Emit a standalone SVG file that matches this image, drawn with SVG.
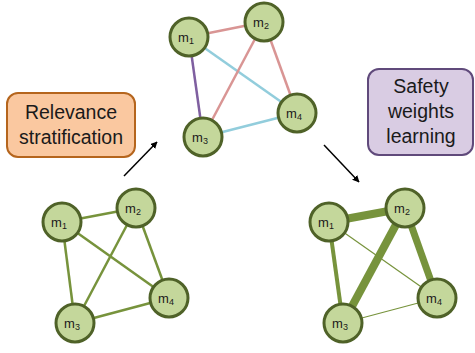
<svg xmlns="http://www.w3.org/2000/svg" width="475" height="353" viewBox="0 0 475 353">
<defs>
<style>
.node circle{fill:#c4d79b;stroke:#4f6228;stroke-width:3}
.node text{font-family:"Liberation Sans",Arial,sans-serif;font-size:13px;fill:#1a1a1a;text-anchor:middle}
.sub{font-size:9px}
.e{fill:none;stroke-linecap:butt}
.g{stroke:#77933c}
.pk{stroke:#d99594;stroke-width:2.5}
.bl{stroke:#92cddc;stroke-width:2.5}
.pu{stroke:#7f5fa0;stroke-width:2.5}
.arrow{stroke:#000;stroke-width:1.5;fill:none;marker-end:url(#ah)}
.lbl{font-family:"Liberation Sans",Arial,sans-serif;font-size:19.5px;fill:#1a1a1a;text-anchor:middle}
</style>
<marker id="ah" viewBox="0 0 10 10" refX="9" refY="5" markerWidth="7" markerHeight="7" orient="auto" markerUnits="userSpaceOnUse">
<path d="M0,0 L10,5 L0,10 z" fill="#000"/>
</marker>
</defs>
<rect width="475" height="353" fill="#fff"/>

<g id="connectors">
<!-- top graph -->
<line class="e pk" x1="189" y1="37" x2="264" y2="22"/>
<line class="e bl" x1="189" y1="37" x2="297" y2="113"/>
<line class="e pu" x1="189" y1="37" x2="203" y2="137"/>
<line class="e pk" x1="264" y1="22" x2="203" y2="137"/>
<line class="e pk" x1="264" y1="22" x2="297" y2="113"/>
<line class="e bl" x1="203" y1="137" x2="297" y2="113"/>
<!-- bottom left graph -->
<line class="e g" stroke-width="2.5" x1="62" y1="222" x2="136" y2="208"/>
<line class="e g" stroke-width="2.5" x1="62" y1="222" x2="169" y2="298"/>
<line class="e g" stroke-width="2.5" x1="62" y1="222" x2="75" y2="323"/>
<line class="e g" stroke-width="2.5" x1="136" y1="208" x2="75" y2="323"/>
<line class="e g" stroke-width="2.5" x1="136" y1="208" x2="169" y2="298"/>
<line class="e g" stroke-width="2.5" x1="75" y1="323" x2="169" y2="298"/>
<!-- bottom right graph -->
<line class="e g" stroke-width="8" x1="329" y1="222" x2="405" y2="208"/>
<line class="e g" stroke-width="1.2" x1="329" y1="222" x2="437" y2="298"/>
<line class="e g" stroke-width="4" x1="329" y1="222" x2="343" y2="323"/>
<line class="e g" stroke-width="8" x1="405" y1="208" x2="343" y2="323"/>
<line class="e g" stroke-width="7" x1="405" y1="208" x2="437" y2="298"/>
<line class="e g" stroke-width="1.2" x1="343" y1="323" x2="437" y2="298"/>
<!-- arrows -->
<line class="arrow" x1="124" y1="176" x2="157" y2="142"/>
<line class="arrow" x1="324" y1="145" x2="359" y2="182"/>
</g>

<g id="relevance">
<rect x="7" y="93" width="128" height="64" rx="11" fill="#fac8a0" stroke="#b5651d" stroke-width="2"/>
<text class="lbl" x="71" y="119">Relevance</text>
<text class="lbl" x="71" y="144">stratification</text>
</g>

<g id="safety">
<rect x="368" y="69" width="105" height="86" rx="11" fill="#d9cce3" stroke="#604a7b" stroke-width="2"/>
<text class="lbl" x="421" y="93">Safety</text>
<text class="lbl" x="421" y="118">weights</text>
<text class="lbl" x="421" y="143">learning</text>
</g>

<g id="top-m1" class="node"><circle cx="189" cy="37" r="19"/><text x="186" y="42">m<tspan class="sub" dy="2">1</tspan></text></g>
<g id="top-m2" class="node"><circle cx="264" cy="22" r="19"/><text x="261" y="27">m<tspan class="sub" dy="2">2</tspan></text></g>
<g id="top-m3" class="node"><circle cx="203" cy="137" r="19"/><text x="200" y="142">m<tspan class="sub" dy="2">3</tspan></text></g>
<g id="top-m4" class="node"><circle cx="297" cy="113" r="19"/><text x="294" y="118">m<tspan class="sub" dy="2">4</tspan></text></g>

<g id="left-m1" class="node"><circle cx="62" cy="222" r="19"/><text x="59" y="227">m<tspan class="sub" dy="2">1</tspan></text></g>
<g id="left-m2" class="node"><circle cx="136" cy="208" r="19"/><text x="133" y="213">m<tspan class="sub" dy="2">2</tspan></text></g>
<g id="left-m3" class="node"><circle cx="75" cy="323" r="19"/><text x="72" y="328">m<tspan class="sub" dy="2">3</tspan></text></g>
<g id="left-m4" class="node"><circle cx="169" cy="298" r="19"/><text x="166" y="303">m<tspan class="sub" dy="2">4</tspan></text></g>

<g id="right-m1" class="node"><circle cx="329" cy="222" r="19"/><text x="326" y="227">m<tspan class="sub" dy="2">1</tspan></text></g>
<g id="right-m2" class="node"><circle cx="405" cy="208" r="19"/><text x="402" y="213">m<tspan class="sub" dy="2">2</tspan></text></g>
<g id="right-m3" class="node"><circle cx="343" cy="323" r="19"/><text x="340" y="328">m<tspan class="sub" dy="2">3</tspan></text></g>
<g id="right-m4" class="node"><circle cx="437" cy="298" r="19"/><text x="434" y="303">m<tspan class="sub" dy="2">4</tspan></text></g>
</svg>
